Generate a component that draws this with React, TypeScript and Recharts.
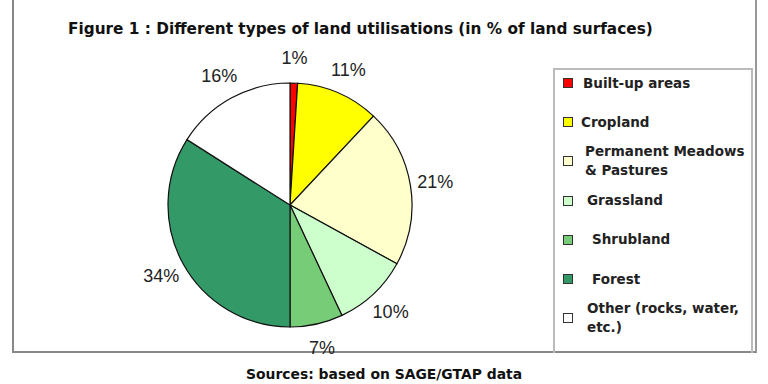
import React from "react";
import { PieChart, Pie, Cell, Legend } from "recharts";

const categories = [
  "Built-up areas",
  "Cropland",
  "Permanent Meadows & Pastures",
  "Grassland",
  "Shrubland",
  "Forest",
  "Other (rocks, water, etc.)",
];
const shares = [1, 11, 21, 10, 7, 34, 16];
const colors = ["#ff0000", "#ffff00", "#ffffcc", "#ccffcc", "#77cc77", "#339966", "#ffffff"];
const legendLines: string[][] = [
  ["Built-up areas"],
  ["Cropland"],
  ["Permanent Meadows", "& Pastures"],
  ["Grassland"],
  ["Shrubland"],
  ["Forest"],
  ["Other (rocks, water,", "etc.)"],
];
const legendTextX = [583, 581, 585, 587, 592, 592, 587];

const title = "Figure 1 : Different types of land utilisations (in % of land surfaces)";
const source = "Sources: based on SAGE/GTAP data";

const data = categories.map((name, i) => ({ name, value: shares[i] }));

const RAD = Math.PI / 180;

const renderLabel = (props: any) => {
  const { cx, cy, midAngle, outerRadius, value } = props;
  const r = outerRadius + 25;
  const x = cx + r * Math.cos(-midAngle * RAD);
  const y = cy + r * Math.sin(-midAngle * RAD);
  return (
    <text
      x={x}
      y={y}
      textAnchor="middle"
      dominantBaseline="central"
      fontFamily="'Liberation Sans', Arial, sans-serif"
      fontSize={18}
      fill="#222"
    >
      {value}%
    </text>
  );
};

const LegendContent = () => (
  <div style={{ position: "relative", width: 198, height: 283 }}>
    {legendLines.map((lines, i) => {
      const cy = 14 + i * 39.2;
      return (
        <div key={i}>
          <div
            style={{
              position: "absolute",
              left: 10,
              top: cy - 5,
              width: 8,
              height: 8,
              background: colors[i],
              border: "1px solid #333",
            }}
          />
          <div
            style={{
              position: "absolute",
              left: legendTextX[i] - 553,
              top: cy - (lines.length * 19) / 2,
              lineHeight: "19px",
              fontFamily: "'DejaVu Sans', Verdana, sans-serif",
              fontWeight: "bold",
              fontSize: 13.5,
              color: "#222",
              whiteSpace: "nowrap",
            }}
          >
            {lines.map((l, j) => (
              <div key={j}>{l}</div>
            ))}
          </div>
        </div>
      );
    })}
  </div>
);

export default function App() {
  return (
    <div
      style={{
        position: "absolute",
        left: 0,
        top: 0,
        width: 768,
        height: 384,
        background: "#fff",
        overflow: "hidden",
      }}
    >
      {/* outer frame */}
      <div
        style={{
          position: "absolute",
          left: 12,
          top: -4,
          width: 741,
          height: 355,
          borderLeft: "2px solid #888",
          borderRight: "2px solid #999",
          borderBottom: "2px solid #888",
        }}
      />
      {/* legend box */}
      <div
        style={{
          position: "absolute",
          left: 553,
          top: 68,
          width: 196,
          height: 283,
          border: "2px solid #bbb",
          borderBottom: "none",
        }}
      />
      <div
        style={{
          position: "absolute",
          left: 68,
          top: 20,
          fontFamily: "'DejaVu Sans', Verdana, sans-serif",
          fontWeight: "bold",
          fontSize: 15.3,
          color: "#111",
          whiteSpace: "nowrap",
        }}
      >
        {title}
      </div>
      <div
        style={{
          position: "absolute",
          left: 246,
          top: 366,
          fontFamily: "'DejaVu Sans', Verdana, sans-serif",
          fontWeight: "bold",
          fontSize: 13.9,
          color: "#111",
          whiteSpace: "nowrap",
        }}
      >
        {source}
      </div>
      <div style={{ position: "absolute", left: 0, top: 0 }}>
        <PieChart width={768} height={384} margin={{ top: 0, right: 0, bottom: 0, left: 0 }}>
          <Pie
            data={data}
            dataKey="value"
            nameKey="name"
            cx={290}
            cy={205}
            outerRadius={122}
            startAngle={90}
            endAngle={-270}
            stroke="#111"
            strokeWidth={1.2}
            label={renderLabel}
            labelLine={false}
            isAnimationActive={false}
          >
            {data.map((d, i) => (
              <Cell key={d.name} fill={colors[i]} />
            ))}
          </Pie>
          <Legend
            layout="vertical"
            content={<LegendContent />}
            wrapperStyle={{ position: "absolute", left: 553, top: 69, width: 198, height: 283 }}
          />
        </PieChart>
      </div>
    </div>
  );
}
